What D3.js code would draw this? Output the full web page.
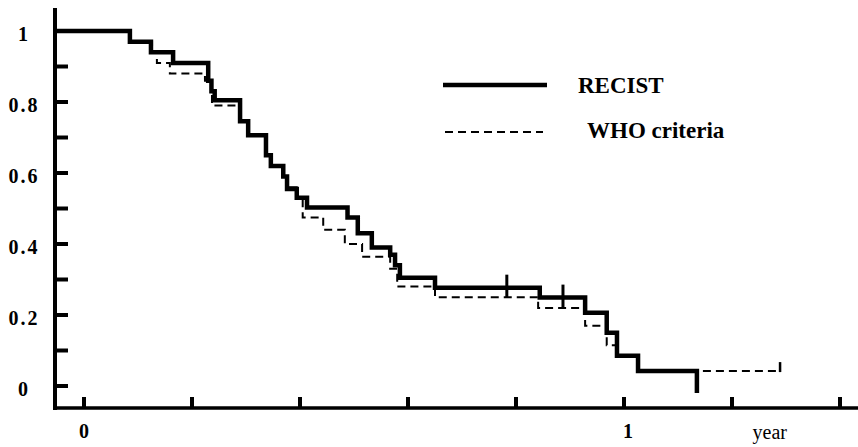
<!DOCTYPE html>
<html>
<head>
<meta charset="utf-8">
<script src="https://cdn.jsdelivr.net/npm/d3@7"></script>
<style>
  body { margin: 0; background: #fff; }
  svg { display: block; }
  text { font-family: "Liberation Serif", "Times New Roman", serif; fill: #000; }
</style>
</head>
<body>
<div id="chart"></div>
<script>
// survival steps (time in years -> survival after the event)
const recistTimes = [0.085, 0.124, 0.165, 0.230, 0.236, 0.242, 0.289, 0.304, 0.337, 0.346, 0.369, 0.376, 0.394, 0.413, 0.488, 0.507, 0.533, 0.567, 0.576, 0.585, 0.650, 0.844, 0.928, 0.968, 0.987, 1.026, 1.135];
const recistSurv  = [0.97, 0.94, 0.91, 0.86, 0.83, 0.805, 0.746, 0.706, 0.65, 0.62, 0.59, 0.555, 0.53, 0.503, 0.475, 0.43, 0.39, 0.37, 0.34, 0.305, 0.277, 0.249, 0.206, 0.15, 0.085, 0.042, -0.02];
const recistCensor = [0.783, 0.887];

const whoTimes = [0.085, 0.126, 0.135, 0.159, 0.224, 0.237, 0.289, 0.304, 0.337, 0.346, 0.369, 0.376, 0.394, 0.405, 0.443, 0.483, 0.515, 0.567, 0.580, 0.650, 0.841, 0.928, 0.968, 0.987, 1.026];
const whoSurv  = [0.97, 0.94, 0.91, 0.88, 0.86, 0.79, 0.746, 0.706, 0.65, 0.62, 0.59, 0.56, 0.53, 0.475, 0.44, 0.40, 0.364, 0.33, 0.28, 0.25, 0.22, 0.17, 0.115, 0.085, 0.042];
const whoEnd = 1.289;

const yTicks = [0, 0.1, 0.2, 0.3, 0.4, 0.5, 0.6, 0.7, 0.8, 0.9, 1];
const yLabels = {0: "0", 0.2: "0.2", 0.4: "0.4", 0.6: "0.6", 0.8: "0.8", 1: "1"};
const xTicks = [0, 0.2, 0.4, 0.6, 0.8, 1, 1.2, 1.4];
const xLabels = {0: "0", 1: "1"};
const seriesNames = ["RECIST", "WHO criteria"];

const width = 858, height = 447;
const axisX = 55, axisY = 408;

const svg = d3.select("#chart").append("svg")
    .attr("width", width)
    .attr("height", height);

svg.append("rect").attr("width", width).attr("height", height).attr("fill", "#fff");

const x = d3.scaleLinear().domain([0, 1]).range([84, 624]);
const y = d3.scaleLinear().domain([0, 1]).range([386, 31]);
const xStart = x.invert(axisX);

// axes
svg.append("line")
    .attr("x1", axisX).attr("x2", axisX)
    .attr("y1", 8).attr("y2", axisY + 2)
    .attr("stroke", "#000").attr("stroke-width", 4);
svg.append("line")
    .attr("x1", axisX - 2).attr("x2", width)
    .attr("y1", axisY).attr("y2", axisY)
    .attr("stroke", "#000").attr("stroke-width", 3.5);

svg.append("g").selectAll("line")
    .data(yTicks)
    .enter().append("line")
      .attr("x1", axisX).attr("x2", axisX + 13)
      .attr("y1", d => y(d)).attr("y2", d => y(d))
      .attr("stroke", "#000").attr("stroke-width", 4);

svg.append("g").selectAll("text")
    .data(yTicks.filter(d => yLabels[d] !== undefined))
    .enter().append("text")
      .attr("x", 24)
      .attr("y", d => y(d) + 9.5)
      .attr("text-anchor", "middle")
      .attr("font-size", 20)
      .attr("font-weight", "bold")
      .attr("letter-spacing", 2)
      .text(d => yLabels[d]);

svg.append("g").selectAll("line")
    .data(xTicks)
    .enter().append("line")
      .attr("x1", d => x(d)).attr("x2", d => x(d))
      .attr("y1", axisY).attr("y2", axisY - 11)
      .attr("stroke", "#000").attr("stroke-width", 4);

svg.append("g").selectAll("text")
    .data(xTicks.filter(d => xLabels[d] !== undefined))
    .enter().append("text")
      .attr("x", d => x(d) + (d > 0 ? 4 : 0))
      .attr("y", 438)
      .attr("text-anchor", "middle")
      .attr("font-size", 20)
      .attr("font-weight", "bold")
      .text(d => xLabels[d]);

svg.append("text")
    .attr("x", x(1.27))
    .attr("y", 439)
    .attr("text-anchor", "middle")
    .attr("font-size", 20)
    .text("year");

// curves
const stepLine = d3.line()
    .x(d => x(d[0]))
    .y(d => y(d[1]))
    .curve(d3.curveStepAfter);

function curvePoints(times, surv, end) {
  const pts = [[xStart, 1]];
  times.forEach((t, i) => pts.push([t, surv[i]]));
  if (end !== undefined) pts.push([end, surv[surv.length - 1]]);
  return pts;
}

function survAt(times, surv, t) {
  let s = 1;
  times.forEach((tt, i) => { if (tt <= t) s = surv[i]; });
  return s;
}

svg.append("path")
    .attr("d", stepLine(curvePoints(whoTimes, whoSurv, whoEnd)))
    .attr("fill", "none")
    .attr("stroke", "#000")
    .attr("stroke-width", 2)
    .attr("stroke-dasharray", "8,5");

svg.append("line")
    .attr("x1", x(whoEnd)).attr("x2", x(whoEnd))
    .attr("y1", y(survAt(whoTimes, whoSurv, whoEnd)) + 1)
    .attr("y2", y(survAt(whoTimes, whoSurv, whoEnd)) - 9)
    .attr("stroke", "#000").attr("stroke-width", 2.5);

svg.append("path")
    .attr("d", stepLine(curvePoints(recistTimes, recistSurv)))
    .attr("fill", "none")
    .attr("stroke", "#000")
    .attr("stroke-width", 4.5);

svg.append("g").selectAll("line")
    .data(recistCensor)
    .enter().append("line")
      .attr("x1", d => x(d)).attr("x2", d => x(d))
      .attr("y1", d => y(survAt(recistTimes, recistSurv, d)) - 13)
      .attr("y2", d => y(survAt(recistTimes, recistSurv, d)) + 10)
      .attr("stroke", "#000").attr("stroke-width", 3);

// legend
const legend = svg.append("g");
legend.append("line")
    .attr("x1", 443).attr("x2", 547).attr("y1", 85).attr("y2", 85)
    .attr("stroke", "#000").attr("stroke-width", 4.5);
legend.append("text")
    .attr("x", 578).attr("y", 93)
    .attr("font-size", 23).attr("font-weight", "bold")
    .text(seriesNames[0]);
legend.append("line")
    .attr("x1", 445).attr("x2", 543).attr("y1", 132).attr("y2", 132)
    .attr("stroke", "#000").attr("stroke-width", 2)
    .attr("stroke-dasharray", "8,5");
legend.append("text")
    .attr("x", 587).attr("y", 138)
    .attr("font-size", 23).attr("font-weight", "bold")
    .text(seriesNames[1]);
</script>
</body>
</html>
